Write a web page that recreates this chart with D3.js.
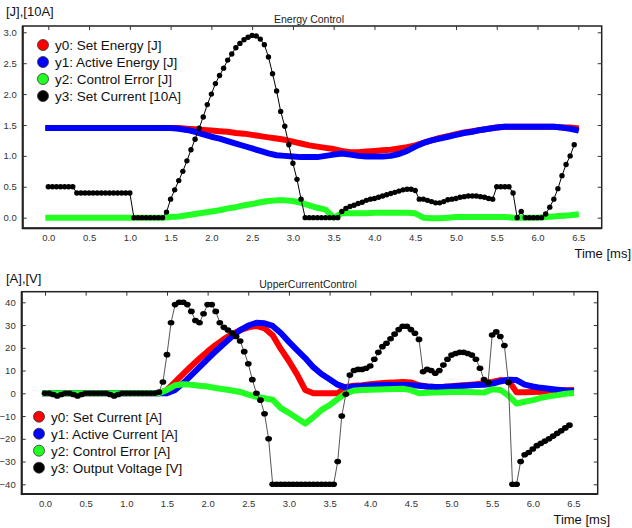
<!DOCTYPE html>
<html>
<head>
<meta charset="utf-8">
<script src="https://cdn.jsdelivr.net/npm/d3@7"></script>
<style>
  body { margin: 0; background: #fff; }
  svg { display: block; font-family: "Liberation Sans", Arial, sans-serif; }
</style>
</head>
<body>
<svg id="chart" width="632" height="528"></svg>
<script>

// time bases (ms): coloured series every 0.1 ms, voltage/current markers every 0.05 ms
var tColor = d3.range(65).map(function (i) { return i / 10; }).concat([6.47]);
var tBlack = d3.range(130).map(function (i) { return i / 20; });

var xTicks = [0, 0.5, 1, 1.5, 2, 2.5, 3, 3.5, 4, 4.5, 5, 5.5, 6, 6.5];
var yTicksTop = [0, 0.5, 1, 1.5, 2, 2.5, 3];
var yTicksBottom = [-40, -30, -20, -10, 0, 10, 20, 30, 40];

// ---- Energy Control ----
var setEnergy = [1.45,1.45,1.45,1.45,1.45,1.45,1.45,1.45,1.45,1.45,1.45,1.45,1.45,1.45,1.45,1.45,
  1.45,1.44,1.43,1.42,1.41,1.40,1.39,1.37,1.36,1.34,1.32,1.30,1.28,1.26,1.23,1.20,1.17,1.15,1.13,1.11,
  1.08,1.06,1.06,1.07,1.08,1.09,1.10,1.12,1.14,1.17,1.21,1.25,1.29,1.32,1.35,1.38,1.40,1.42,1.44,1.46,
  1.47,1.47,1.47,1.47,1.47,1.47,1.47,1.46,1.46,1.45];
var activeEnergy = [1.45,1.45,1.45,1.45,1.45,1.45,1.45,1.45,1.45,1.45,1.45,1.45,1.45,1.45,1.45,1.45,
  1.44,1.42,1.39,1.35,1.31,1.28,1.24,1.20,1.16,1.12,1.08,1.04,1.01,1.00,0.99,0.98,0.98,0.98,1.00,1.02,
  1.04,1.02,1.00,0.99,0.99,0.99,1.00,1.03,1.08,1.15,1.21,1.25,1.28,1.31,1.34,1.37,1.39,1.42,1.44,1.46,
  1.47,1.47,1.47,1.47,1.47,1.47,1.47,1.46,1.44,1.42];
var energyError = [0,0,0,0,0,0,0,0,0,0,0,0,0,0,0,
  0.01,0.02,0.04,0.06,0.08,0.10,0.12,0.15,0.17,0.20,0.22,0.25,0.27,0.28,0.28,0.27,0.24,0.20,0.16,0.13,
  0.00,0.07,0.07,0.07,0.07,0.08,0.08,0.08,0.08,0.08,0.07,0.00,-0.01,-0.01,0.00,0.01,0.01,0.01,0.01,0.01,
  0.01,0.01,0.00,0.00,0.00,0.00,0.01,0.02,0.03,0.04,0.05];
var setCurrent10A = [0.5,0.5,0.5,0.5,0.5,0.5,0.5,0.4,0.4,0.4,0.4,0.4,0.4,0.4,0.4,0.4,0.4,0.4,0.4,0.4,0.4,
  0,0,0,0,0,0,0,0,0.09,0.30,0.45,0.60,0.75,0.92,1.10,1.27,1.45,1.63,1.83,2.00,2.17,2.30,2.42,2.55,2.65,
  2.75,2.82,2.88,2.92,2.95,2.94,2.89,2.80,2.60,2.33,2.05,1.72,1.48,1.18,0.88,0.62,0.30,0,
  0,0,0,0,0,0,0,0,0.10,0.15,0.18,0.20,0.23,0.25,0.28,0.30,0.31,0.33,0.35,0.37,0.39,0.41,0.43,0.45,
  0.46,0.46,0.44,0.30,0.30,0.28,0.26,0.24,0.24,0.26,0.29,0.30,0.31,0.33,0.34,0.35,0.35,0.35,0.34,0.33,
  0.31,0.30,0.50,0.50,0.50,0.50,0.40,0,0.10,0,0,0,0,0,0.06,0.17,0.30,0.47,0.68,0.86,1.00,1.18];

// ---- UpperCurrentControl ----
var setCurrentA = [0,0,0,0,0,0,0,0,0,0,0,0,0,0,0,
  1.5,5,8.5,12,15.3,18.4,21.3,23.8,26,27.8,29,29.6,28.6,25.5,19.5,14.2,8.3,1.5,0,0,0,0,
  2.8,3.3,3.6,4.0,4.3,4.6,4.8,5.0,4.8,3.5,3.0,2.8,2.9,3.1,3.4,3.7,4.0,4.4,5.0,5.8,5.5,
  0.5,0.5,0.6,0.7,0.9,1.1,1.3,1.4];
var activeCurrentA = [0,0,0,0,0,0,0,0,0,0,0,0,0,0,0,0,
  1.5,4.5,8,11.5,15,18.5,21.8,25,27.8,29.8,31,30.8,29.6,26.5,22.6,19,15.5,11.5,8.5,6.2,3.8,
  2.5,3.0,3.2,3.4,3.5,3.6,3.7,3.7,3.6,3.3,3.0,2.8,2.8,3.0,3.2,3.4,3.6,3.8,4.2,5.2,6.0,5.8,
  3.8,3.0,2.4,2.0,1.6,1.2,1.0];
var currentError = [0,0,0,0,0,0,0,0,0,0,0,0,0,0,0,
  1.5,3.5,4.0,3.8,3.3,3.0,2.3,1.8,1.2,0.6,-0.6,-1.5,-2.2,-2.8,-6.5,-8.6,-11,-13.3,-10.5,-7.3,-5.2,-2.5,
  0.0,1.2,1.4,1.6,1.7,1.8,1.9,2.0,1.4,0.0,0.2,0.3,0.5,0.6,0.7,0.6,0.5,0.3,1.8,1.5,-1.0,-4.5,
  -3.7,-3.0,-2.0,-1.3,-0.8,-0.2,0.0];
var outputVoltage = [0,0,-0.5,-1.2,-0.5,0,0,-0.5,-1.2,-0.5,0,0,0,0,0,0,-0.5,-1.2,-0.5,0,
  0,0,0,0,0,0,0,0,0.5,5,17,31,39,40,40,39,36,32,31,35,39,39,36,31,29,27.8,26.5,25,23,18.3,13,6,0,
  -3,-9,-20,-40,-40,-40,-40,-40,-40,-40,-40,-40,-40,-40,-40,-40,-40,-40,-40,
  -30,-10,-0.4,8,10,10.5,10.5,11,12,15,18,20.5,22,24,26,28,29.5,29.5,28,26.4,23.7,
  9.5,10.5,10,8.8,10,12.4,15,16.8,17.5,18,18,17.5,16.8,15,11,6,4.8,25.6,27,25,21,4.8,
  -40,-40,-30,-27,-26,-24.5,-23,-22,-21,-20,-18.8,-17.6,-16.5,-15.2,-14];

var svg = d3.select("#chart");

function drawPanel(p) {
  var x = d3.scaleLinear().domain(p.xDomain).range([p.left, p.right]);
  var y = d3.scaleLinear().domain(p.yDomain).range([p.bottom, p.top]);
  var g = svg.append("g");

  var line = d3.line()
    .x(function (d) { return x(d[0]); })
    .y(function (d) { return y(d[1]); });

  p.bands.forEach(function (b) {
    g.append("path")
      .datum(d3.zip(tColor, b.values))
      .attr("d", line)
      .attr("fill", "none")
      .attr("stroke", b.color)
      .attr("stroke-width", 6)
      .attr("stroke-linejoin", "round")
      .attr("stroke-linecap", "square");
  });

  var pts = d3.zip(tBlack, p.black);
  g.append("path")
    .datum(pts)
    .attr("d", line)
    .attr("fill", "none")
    .attr("stroke", p.blackLine)
    .attr("stroke-width", 1);
  g.selectAll(".dot")
    .data(pts)
    .enter().append("ellipse")
    .attr("class", "dot")
    .attr("cx", function (d) { return x(d[0]); })
    .attr("cy", function (d) { return y(d[1]); })
    .attr("rx", p.dotRx)
    .attr("ry", p.dotRy)
    .attr("fill", "#000");

  // frame
  g.append("rect")
    .attr("x", p.left).attr("y", p.top)
    .attr("width", p.right - p.left).attr("height", p.bottom - p.top)
    .attr("fill", "none").attr("stroke", "#222").attr("stroke-width", 1.5);
  g.append("path")
    .attr("d", "M" + p.left + "," + p.top + "V" + p.bottom + "H" + p.right)
    .attr("fill", "none").attr("stroke", "#222").attr("stroke-width", 2);

  var axes = [
    g.append("g").attr("transform", "translate(0," + p.bottom + ")")
      .call(d3.axisBottom(x).tickValues(xTicks).tickSize(0).tickPadding(6).tickFormat(d3.format(".1f"))),
    g.append("g").attr("transform", "translate(0," + p.top + ")")
      .call(d3.axisTop(x).tickValues(xTicks).tickSize(-4).tickFormat("")),
    g.append("g").attr("transform", "translate(" + p.left + ",0)")
      .call(d3.axisLeft(y).tickValues(p.yTicks).tickSize(-4).tickPadding(6).tickFormat(p.yFormat)),
    g.append("g").attr("transform", "translate(" + p.right + ",0)")
      .call(d3.axisRight(y).tickValues(p.yTicks).tickSize(-4).tickFormat(""))
  ];
  axes.forEach(function (a) {
    a.select(".domain").remove();
    a.selectAll("line").attr("stroke", "#333");
    a.selectAll("text").attr("fill", "#333").style("font-size", "9.5px").style("font-family", null);
  });

  g.append("text")
    .attr("x", p.titleX).attr("y", p.titleY)
    .attr("text-anchor", "middle")
    .style("font-size", "10.5px").attr("fill", "#222")
    .text(p.title);
  g.append("text")
    .attr("x", 6).attr("y", p.unitY)
    .style("font-size", "13px").attr("fill", "#111")
    .text(p.unit);
  g.append("text")
    .attr("x", p.timeX).attr("y", p.timeY)
    .attr("text-anchor", "end")
    .style("font-size", "13px").attr("fill", "#111")
    .text("Time [ms]");

  var legend = g.selectAll(".legend")
    .data(p.legend)
    .enter().append("g")
    .attr("class", "legend")
    .attr("transform", function (d, i) { return "translate(" + p.legendX + "," + (p.legendY + i * 17) + ")"; });
  legend.append("circle")
    .attr("r", 5.5)
    .attr("fill", function (d) { return d.color; })
    .attr("stroke", "#333").attr("stroke-width", 0.8);
  legend.append("text")
    .attr("x", 12).attr("dy", "0.36em")
    .style("font-size", "13.5px").attr("fill", "#111")
    .text(function (d) { return d.label; });
}

drawPanel({
  left: 22.7, right: 601.7, top: 26, bottom: 228.3,
  xDomain: [-0.314, 6.787], yDomain: [-0.172, 3.102],
  yTicks: yTicksTop, yFormat: d3.format(".1f"),
  bands: [
    { values: setEnergy, color: "#ff0000" },
    { values: activeEnergy, color: "#0000ff" },
    { values: energyError, color: "#22ff22" }
  ],
  black: setCurrent10A, blackLine: "#000", dotRx: 2.7, dotRy: 2.7,
  title: "Energy Control", titleX: 309, titleY: 23,
  unit: "[J],[10A]", unitY: 16,
  timeX: 631, timeY: 258,
  legendX: 43, legendY: 45,
  legend: [
    { label: "y0: Set Energy [J]", color: "#ff0000" },
    { label: "y1: Active Energy [J]", color: "#0000ff" },
    { label: "y2: Control Error [J]", color: "#22ff22" },
    { label: "y3: Set Current [10A]", color: "#000" }
  ]
});

drawPanel({
  left: 21.7, right: 597.7, top: 291.7, bottom: 494,
  xDomain: [-0.287, 6.798], yDomain: [-44.26, 44.66],
  yTicks: yTicksBottom, yFormat: d3.format("d"),
  bands: [
    { values: setCurrentA, color: "#ff0000" },
    { values: activeCurrentA, color: "#0000ff" },
    { values: currentError, color: "#22ff22" }
  ],
  black: outputVoltage, blackLine: "#555", dotRx: 3.4, dotRy: 2.8,
  title: "UpperCurrentControl", titleX: 308, titleY: 288,
  unit: "[A],[V]", unitY: 283,
  timeX: 610, timeY: 524,
  legendX: 39, legendY: 416.7,
  legend: [
    { label: "y0: Set Current [A]", color: "#ff0000" },
    { label: "y1: Active Current [A]", color: "#0000ff" },
    { label: "y2: Control Error [A]", color: "#22ff22" },
    { label: "y3: Output Voltage [V]", color: "#000" }
  ]
});

</script>
</body>
</html>
